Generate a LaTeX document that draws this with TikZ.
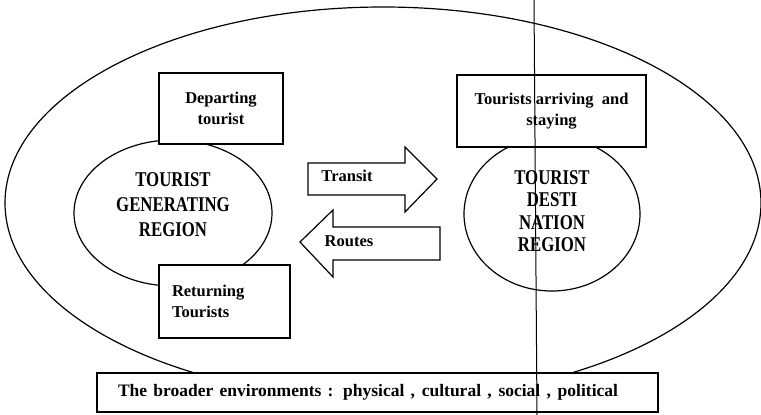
\documentclass[tikz,border=0pt]{standalone}
\usepackage{fontspec}
\usetikzlibrary{shapes.geometric}
\setmainfont{Liberation Serif}
\newfontfamily\regionfont[FakeStretch=0.8]{Liberation Serif}
\begin{document}
\begin{tikzpicture}[x=1pt,y=-1pt,
  region/.style={draw, line width=1.2pt},
  tagbox/.style={draw, fill=white, line width=1.5pt, inner sep=0pt,
    font=\bfseries\fontsize{16.5}{21}\selectfont, align=center},
  regiontext/.style={inner sep=0pt, align=center,
    font=\regionfont\bfseries\fontsize{21}{25}\selectfont},
  flow/.style={draw, fill=white, line width=1.2pt, line join=miter},
  flowtext/.style={inner sep=0pt, font=\bfseries\fontsize{16.5}{20}\selectfont},
  scanline/.style={draw, line width=1pt}
]
\useasboundingbox (0,0) rectangle (761,415);

% the broader environment around the whole system
\draw[region] (383,203) ellipse [x radius=378, y radius=196];

% generating and destination regions
\node[region, ellipse, minimum width=198pt, minimum height=146pt, inner sep=0pt] (gen) at (173,213) {};
\node[region, ellipse, minimum width=176pt, minimum height=154pt, inner sep=0pt] (dest) at (552,214) {};
\node[regiontext] (gentext) at (173,205) {TOURIST\\GENERATING\\REGION};
\node[regiontext, font=\regionfont\bfseries\fontsize{21}{22.5}\selectfont] (desttext) at (552,211) {TOURIST\\DESTI\\NATION\\REGION};

% transit route arrows
\coordinate (tr1) at (308,163); \coordinate (tr2) at (405,163);
\coordinate (tr3) at (405,147); \coordinate (tr4) at (437,179);
\coordinate (tr5) at (405,212); \coordinate (tr6) at (405,195);
\coordinate (tr7) at (308,195);
\draw[flow] (tr1) -- (tr2) -- (tr3) -- (tr4) -- (tr5) -- (tr6) -- (tr7) -- cycle;
\node[flowtext] (transit) at (347,176) {Transit};

\coordinate (ro1) at (440,227); \coordinate (ro2) at (333,227);
\coordinate (ro3) at (333,210); \coordinate (ro4) at (300,242);
\coordinate (ro5) at (333,277); \coordinate (ro6) at (333,260);
\coordinate (ro7) at (440,260);
\draw[flow] (ro1) -- (ro2) -- (ro3) -- (ro4) -- (ro5) -- (ro6) -- (ro7) -- cycle;
\node[flowtext] (routes) at (349,241) {Routes};

% tourist flow boxes
\node[tagbox, minimum width=124pt, minimum height=71pt] (depart) at (221,108.5) {Departing\\tourist};
\node[tagbox, minimum width=189pt, minimum height=72pt] (arrive) at (551.5,111) {Tourists arriving\ \ and\\staying};
\node[tagbox, minimum width=131pt, minimum height=73pt, align=left] (return) at (224.5,301.5)
  {\makebox[105pt][l]{Returning}\\\makebox[105pt][l]{Tourists}};

% environment label
\node[tagbox, minimum width=561pt, minimum height=39pt, font=\bfseries\fontsize{17.5}{21}\selectfont] (env) at (377.5,392.5)
  {\makebox[500pt][s]{The broader environments : physical , cultural , social , political}\hspace{19pt}};

% vertical rule across the sheet
\draw[scanline] (534,0) -- (537,415);
\end{tikzpicture}
\end{document}
